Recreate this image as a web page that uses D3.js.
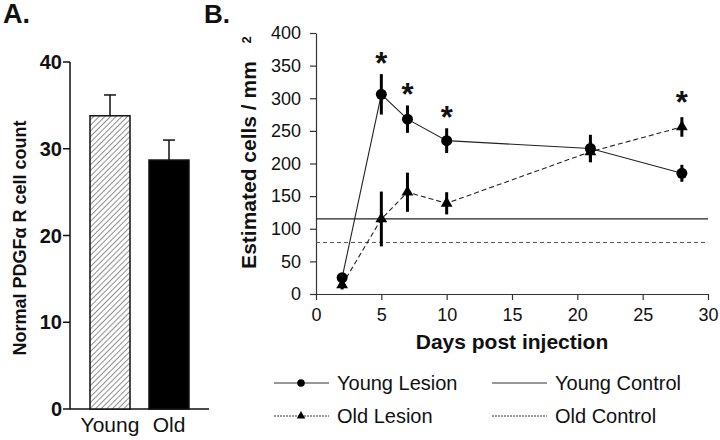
<!DOCTYPE html>
<html>
<head>
  <meta charset="utf-8">
  <title>PDGFaR cells</title>
  <style>
    body { margin: 0; background: #fff; }
    text { font-family: "Liberation Sans", Arial, sans-serif; fill: #111; }
  </style>
</head>
<body>
<script src="https://d3js.org/d3.v7.min.js"></script>
<script>
  // panel A
  var groups = ['Young', 'Old'];
  var groupMeans = [33.8, 28.7];
  var groupErr = [2.4, 2.3];
  var aTicks = [0, 10, 20, 30, 40];

  // panel B
  var days = [2, 5, 7, 10, 21, 28];
  var youngLesion = [25, 306, 268, 235, 223, 185];
  var youngErr = [6, 31, 21, 19, 21, 13];
  var oldLesion = [14, 115, 156, 139, 218, 256];
  var oldErr = [7, 42, 30, 17, 16, 15];
  var youngControl = 115;
  var oldControl = 79;
  var starDays = [5, 7, 10, 28];
  var starVals = [360, 313, 277, 301];
  var bYTicks = [0, 50, 100, 150, 200, 250, 300, 350, 400];
  var bXTicks = [0, 5, 10, 15, 20, 25, 30];

  var width = 720, height = 440;
  var svg = d3.select('body').append('svg')
    .attr('width', width)
    .attr('height', height);

  var defs = svg.append('defs');
  var pat = defs.append('pattern')
    .attr('id', 'hatch')
    .attr('patternUnits', 'userSpaceOnUse')
    .attr('width', 4).attr('height', 4)
    .attr('patternTransform', 'rotate(45)');
  pat.append('rect').attr('width', 4).attr('height', 4).attr('fill', '#fff');
  pat.append('line')
    .attr('x1', 0).attr('y1', 0).attr('x2', 0).attr('y2', 4)
    .attr('stroke', '#333').attr('stroke-width', 1.1);

  // ---------- panel A ----------
  var ax = d3.scaleBand().domain(groups).range([78.2, 200.8]).paddingInner(0.322).paddingOuter(0.2);
  var ay = d3.scaleLinear().domain([0, 40]).range([409, 62]);

  svg.append('text').attr('x', 3).attr('y', 23)
    .style('font-size', '27px').style('font-weight', 'bold').text('A.');

  var gA = svg.append('g');
  gA.append('line').attr('x1', 70).attr('x2', 209).attr('y1', ay(0)).attr('y2', ay(0))
    .attr('stroke', '#111').attr('stroke-width', 1.5);
  gA.append('line').attr('x1', 70).attr('x2', 70).attr('y1', ay(0)).attr('y2', ay(40))
    .attr('stroke', '#111').attr('stroke-width', 1.5);
  aTicks.forEach(function(t) {
    gA.append('line').attr('x1', 63).attr('x2', 70).attr('y1', ay(t)).attr('y2', ay(t))
      .attr('stroke', '#111').attr('stroke-width', 1.5);
    gA.append('text').attr('x', 62).attr('y', ay(t) + 7)
      .attr('text-anchor', 'end').style('font-size', '20px').style('font-weight', 'bold')
      .text(t);
  });

  groups.forEach(function(g, i) {
    var cx = ax(g) + ax.bandwidth() / 2;
    gA.append('line').attr('x1', cx).attr('x2', cx)
      .attr('y1', ay(groupMeans[i])).attr('y2', ay(groupMeans[i] + groupErr[i]))
      .attr('stroke', '#111').attr('stroke-width', 1.5);
    gA.append('line').attr('x1', cx - 6).attr('x2', cx + 6)
      .attr('y1', ay(groupMeans[i] + groupErr[i])).attr('y2', ay(groupMeans[i] + groupErr[i]))
      .attr('stroke', '#111').attr('stroke-width', 1.5);
    gA.append('rect')
      .attr('x', ax(g)).attr('y', ay(groupMeans[i]))
      .attr('width', ax.bandwidth()).attr('height', ay(0) - ay(groupMeans[i]))
      .attr('fill', i === 0 ? 'url(#hatch)' : '#000')
      .attr('stroke', '#111').attr('stroke-width', 1.5);
    gA.append('text').attr('x', cx).attr('y', 432)
      .attr('text-anchor', 'middle').style('font-size', '21px').text(g);
  });

  svg.append('text')
    .attr('transform', 'translate(26,238) rotate(-90)')
    .attr('text-anchor', 'middle')
    .style('font-size', '18px').style('font-weight', 'bold')
    .text('Normal PDGF\u03b1 R cell count');

  // ---------- panel B ----------
  var bx = d3.scaleLinear().domain([0, 30]).range([316, 708]);
  var by = d3.scaleLinear().domain([0, 400]).range([294, 33]);

  svg.append('text').attr('x', 204).attr('y', 23)
    .style('font-size', '26px').style('font-weight', 'bold').text('B.');

  var gB = svg.append('g');
  gB.append('g').attr('transform', 'translate(0,' + by(0) + ')')
    .call(d3.axisBottom(bx).tickValues(bXTicks).tickSize(6).tickPadding(8).tickSizeOuter(0))
    .call(function(g) {
      g.selectAll('path,line').attr('stroke', '#333').attr('stroke-width', 1.2);
      g.selectAll('text').style('font-size', '18px').attr('fill', '#111')
        .style('font-family', '"Liberation Sans", Arial, sans-serif');
    });
  gB.append('g').attr('transform', 'translate(' + bx(0) + ',0)')
    .call(d3.axisLeft(by).tickValues(bYTicks).tickSize(6).tickPadding(9).tickSizeOuter(0))
    .call(function(g) {
      g.selectAll('path,line').attr('stroke', '#333').attr('stroke-width', 1.2);
      g.selectAll('text').style('font-size', '18px').attr('fill', '#111')
        .style('font-family', '"Liberation Sans", Arial, sans-serif');
    });

  // control lines
  gB.append('line').attr('x1', bx(0)).attr('x2', bx(30))
    .attr('y1', by(youngControl)).attr('y2', by(youngControl))
    .attr('stroke', '#222').attr('stroke-width', 1.3);
  gB.append('line').attr('x1', bx(0)).attr('x2', bx(30))
    .attr('y1', by(oldControl)).attr('y2', by(oldControl))
    .attr('stroke', '#555').attr('stroke-width', 1).attr('stroke-dasharray', '4,3');

  var line = d3.line().x(function(d) { return bx(d[0]); }).y(function(d) { return by(d[1]); });
  var youngPts = days.map(function(d, i) { return [d, youngLesion[i], youngErr[i]]; });
  var oldPts = days.map(function(d, i) { return [d, oldLesion[i], oldErr[i]]; });

  gB.append('path').datum(youngPts).attr('d', line)
    .attr('fill', 'none').attr('stroke', '#222').attr('stroke-width', 1.1);
  gB.append('path').datum(oldPts).attr('d', line)
    .attr('fill', 'none').attr('stroke', '#222').attr('stroke-width', 1.1)
    .attr('stroke-dasharray', '5,3');

  [youngPts, oldPts].forEach(function(pts) {
    gB.selectAll(null).data(pts).enter().append('line')
      .attr('x1', function(d) { return bx(d[0]); })
      .attr('x2', function(d) { return bx(d[0]); })
      .attr('y1', function(d) { return by(d[1] - d[2]); })
      .attr('y2', function(d) { return by(d[1] + d[2]); })
      .attr('stroke', '#000').attr('stroke-width', 3);
  });

  var tri = d3.symbol().type(d3.symbolTriangle).size(60);
  gB.selectAll(null).data(oldPts).enter().append('path')
    .attr('d', tri)
    .attr('transform', function(d) { return 'translate(' + bx(d[0]) + ',' + by(d[1]) + ')'; })
    .attr('fill', '#000');
  gB.selectAll(null).data(youngPts).enter().append('circle')
    .attr('cx', function(d) { return bx(d[0]); })
    .attr('cy', function(d) { return by(d[1]); })
    .attr('r', 5.5).attr('fill', '#000');

  gB.selectAll(null).data(starDays).enter().append('text')
    .attr('x', function(d) { return bx(d); })
    .attr('y', function(d, i) { return by(starVals[i]) + 15; })
    .attr('text-anchor', 'middle')
    .style('font-size', '31px').style('font-weight', 'bold')
    .text('*');

  svg.append('text')
    .attr('transform', 'translate(256,165) rotate(-90)')
    .attr('text-anchor', 'middle')
    .style('font-size', '21px').style('font-weight', 'bold')
    .text('Estimated cells / mm');
  svg.append('text')
    .attr('transform', 'translate(251,40) rotate(-90)')
    .attr('text-anchor', 'middle')
    .style('font-size', '13px').style('font-weight', 'bold')
    .text('2');

  svg.append('text').attr('x', bx(15)).attr('y', 349)
    .attr('text-anchor', 'middle')
    .style('font-size', '21px').style('font-weight', 'bold')
    .text('Days post injection');

  // legend
  var legend = [
    {name: 'Young Lesion', x: 274, y: 383, dash: null, mark: 'circle'},
    {name: 'Old Lesion', x: 274, y: 416, dash: '2,1', mark: 'tri'},
    {name: 'Young Control', x: 492, y: 383, dash: null, mark: null},
    {name: 'Old Control', x: 492, y: 416, dash: '2,1', mark: null}
  ];
  var lg = svg.append('g');
  legend.forEach(function(d) {
    lg.append('line').attr('x1', d.x).attr('x2', d.x + 55).attr('y1', d.y).attr('y2', d.y)
      .attr('stroke', '#333').attr('stroke-width', 1)
      .attr('stroke-dasharray', d.dash);
    if (d.mark === 'circle') {
      lg.append('circle').attr('cx', d.x + 27).attr('cy', d.y).attr('r', 3.8).attr('fill', '#000');
    } else if (d.mark === 'tri') {
      lg.append('path').attr('d', d3.symbol().type(d3.symbolTriangle).size(32))
        .attr('transform', 'translate(' + (d.x + 27) + ',' + d.y + ')').attr('fill', '#000');
    }
    lg.append('text').attr('x', d.x + 63).attr('y', d.y + 7)
      .style('font-size', '20px').text(d.name);
  });
</script>
</body>
</html>
